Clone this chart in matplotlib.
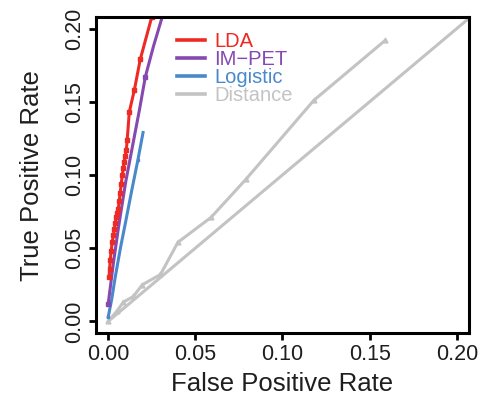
import numpy as np
import matplotlib
matplotlib.use("Agg")
import matplotlib.pyplot as plt

plt.rcParams['font.family'] = ['Liberation Sans', 'DejaVu Sans']

# LDA (red)
lda_fpr = [0.0005, 0.0008, 0.0012, 0.0017, 0.0023, 0.0030, 0.0035, 0.0041, 0.0046, 0.0052,
           0.0058, 0.0063, 0.0069, 0.0075, 0.0081, 0.0087, 0.0092, 0.0098, 0.0104, 0.0109,
           0.0121, 0.0150, 0.0184, 0.0250, 0.0280]
lda_tpr = [0.030, 0.036, 0.042, 0.048, 0.054, 0.059, 0.063, 0.067, 0.071, 0.074,
           0.077, 0.082, 0.088, 0.094, 0.100, 0.105, 0.109, 0.113, 0.117, 0.124,
           0.143, 0.158, 0.179, 0.208, 0.222]

# IM-PET (purple)
impet_fpr = [0.000, 0.003, 0.006, 0.010, 0.014, 0.018, 0.0213, 0.026, 0.031, 0.035]
impet_tpr = [0.012, 0.040, 0.065, 0.095, 0.120, 0.145, 0.167, 0.188, 0.208, 0.222]

# Logistic (blue)
logit_fpr = [0.000, 0.002, 0.004, 0.007, 0.010, 0.0136, 0.017, 0.020]
logit_tpr = [0.003, 0.015, 0.030, 0.050, 0.068, 0.090, 0.110, 0.129]

# Distance (gray)
dist_fpr = [0.000, 0.005, 0.0086, 0.0144, 0.0196, 0.030, 0.040, 0.059, 0.079, 0.118, 0.159]
dist_tpr = [0.000, 0.007, 0.013, 0.017, 0.025, 0.032, 0.054, 0.071, 0.097, 0.151, 0.192]

RED = '#ee2a24'
PURPLE = '#8649b0'
BLUE = '#4a88cc'
GRAY = '#c3c3c3'
TXT = '#1e1e1e'

fig = plt.figure(figsize=(4.81, 3.96), dpi=100)
ax = fig.add_axes([0.1996, 0.159, 0.7754, 0.797])

# chance diagonal
ax.plot([0, 1], [0, 1], color=GRAY, lw=2.2, solid_capstyle='butt')
ax.plot(dist_fpr, dist_tpr, color=GRAY, lw=2.2, marker='^', ms=3.5, label='Distance')
ax.plot(logit_fpr, logit_tpr, color=BLUE, lw=2.2, marker='s', ms=2, markevery=[0, 6], label='Logistic')
ax.plot(impet_fpr, impet_tpr, color=PURPLE, lw=2.2, marker='s', ms=2.5, markevery=[0, 6], label='IM\u2212PET')
ax.plot(lda_fpr, lda_tpr, color=RED, lw=2.2, marker='s', ms=2.8, label='LDA')

ax.set_xlim(-0.007, 0.207)
ax.set_ylim(-0.008, 0.2076)
ticks = [0.00, 0.05, 0.10, 0.15, 0.20]
ax.set_xticks(ticks)
ax.set_yticks(ticks)
ax.set_xticklabels(['%.2f' % t for t in ticks], fontsize=15.5, color=TXT)
ax.set_yticklabels(['%.2f' % t for t in ticks], fontsize=15.5, color=TXT,
                   rotation=90, va='center')
ax.tick_params(direction='out', length=5, width=2, pad=3)
for s in ax.spines.values():
    s.set_linewidth(2.2)

ax.set_xlabel('False Positive Rate', fontsize=18.5, color=TXT, labelpad=5)
ax.set_ylabel('True Positive Rate', fontsize=18.5, color=TXT, labelpad=14)

h, l = ax.get_legend_handles_labels()
order = [3, 2, 1, 0]
leg = ax.legend([h[i] for i in order], [l[i] for i in order],
                loc='upper left', bbox_to_anchor=(0.19, 0.985), frameon=False,
                fontsize=14.5, handlelength=1.4, handletextpad=0.45, labelspacing=-0.06,
                borderpad=0, labelcolor='linecolor')
for lh in leg.get_lines():
    lh.set_marker('')
    lh.set_linewidth(2.6)

fig.savefig('out.png', dpi=100)
